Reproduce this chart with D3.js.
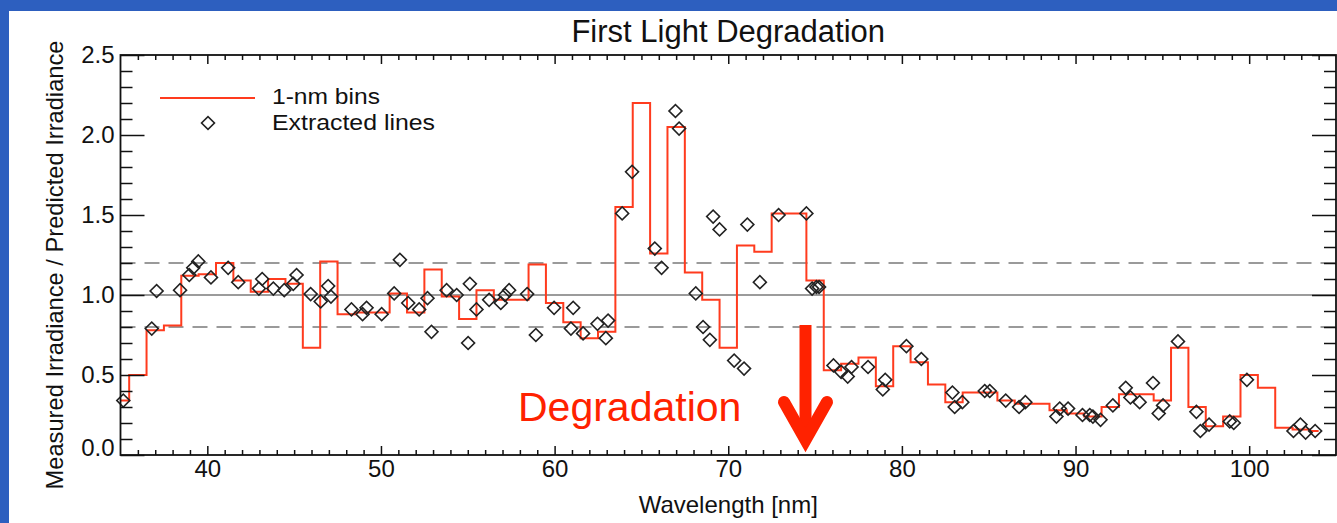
<!DOCTYPE html>
<html>
<head>
<meta charset="utf-8">
<script src="https://cdn.jsdelivr.net/npm/d3@7"></script>
<style>
  html, body { margin: 0; padding: 0; background: #2d5fbf; }
  svg { display: block; }
  text { font-family: "Liberation Sans", Arial, Helvetica, sans-serif; }
</style>
</head>
<body>
<svg id="chart" width="1337" height="523"></svg>
<script>
// ---------- data ----------
const binCenters = [35,36,37,38,39,40,41,42,43,44,45,46,47,48,49,50,51,52,53,54,55,56,57,58,59,60,
  61,62,63,64,65,66,67,68,69,70,71,72,73,74,75,76,77,78,79,80,81,82,83,84,85,86,87,88,89,90,
  91,92,93,94,95,96,97,98,99,100,101,102,103,104];
const binValues = [0.34,0.50,0.78,0.81,1.12,1.13,1.20,1.09,1.02,1.10,1.07,0.67,1.21,0.88,0.89,0.89,1.01,0.89,1.16,0.99,
  0.85,1.03,0.97,0.97,1.19,0.95,0.83,0.73,0.77,1.55,2.20,1.26,2.05,1.14,0.97,0.67,1.31,1.27,1.51,1.51,
  1.09,0.53,0.57,0.61,0.43,0.68,0.58,0.44,0.33,0.39,0.39,0.34,0.32,0.32,0.28,0.26,
  0.24,0.30,0.38,0.38,0.34,0.67,0.30,0.18,0.24,0.50,0.42,0.17,0.16,0.15];

const lineWaves = [35.16,36.8,37.08,38.43,38.96,39.19,39.48,40.21,41.2,41.78,42.97,43.16,43.8,44.43,44.95,45.14,
  45.95,46.53,46.96,47.12,48.3,48.94,49.17,50.04,50.76,51.09,51.57,52.2,52.68,52.91,53.78,
  54.36,55.02,55.12,55.5,56.23,56.9,57.14,57.38,58.42,58.92,59.97,60.94,61.07,61.64,62.47,62.95,63.08,
  63.89,64.46,65.77,66.16,66.96,67.17,68.13,68.55,68.94,69.13,69.5,70.34,70.91,71.1,71.82,72.9,74.5,
  74.83,75.08,75.23,76.06,76.5,76.88,77.1,78.05,78.9,79.04,80.26,81.12,82.91,83.04,83.48,84.77,85.06,
  85.98,86.75,87.11,88.9,89.09,89.57,90.4,90.82,91.0,91.44,92.15,92.89,93.16,93.69,94.46,94.79,95.04,
  95.9,96.96,97.19,97.69,98.88,99.11,99.87,102.55,102.95,103.25,103.8];
const lineValues = [0.34,0.79,1.025,1.03,1.125,1.17,1.21,1.11,1.17,1.08,1.04,1.10,1.04,1.03,1.07,1.125,
  1.006,0.96,1.056,0.99,0.91,0.88,0.92,0.88,1.01,1.22,0.95,0.91,0.98,0.77,1.03,
  1.0,0.70,1.07,0.91,0.97,0.95,1.0,1.03,1.006,0.75,0.92,0.79,0.92,0.76,0.82,0.73,0.84,
  1.51,1.77,1.29,1.17,2.15,2.04,1.01,0.80,0.72,1.49,1.41,0.59,0.54,1.44,1.08,1.50,1.51,
  1.04,1.05,1.05,0.56,0.52,0.49,0.55,0.55,0.41,0.47,0.68,0.60,0.39,0.30,0.33,0.40,0.40,
  0.34,0.30,0.33,0.24,0.29,0.29,0.25,0.25,0.24,0.22,0.31,0.42,0.36,0.33,0.45,0.26,0.31,
  0.71,0.27,0.15,0.19,0.21,0.20,0.47,0.15,0.19,0.14,0.15];

const xTicks = [40,50,60,70,80,90,100];
const yTicks = [0.0,0.5,1.0,1.5,2.0,2.5];
const refLines = [0.8,1.0,1.2];
const legendLabels = ["1-nm bins","Extracted lines"];
const titleText = "First Light Degradation";
const xLabel = "Wavelength [nm]";
const yLabel = "Measured Irradiance / Predicted Irradiance";
const noteText = "Degradation";

// ---------- layout ----------
const svg = d3.select("#chart");
const W = 1337, H = 523;
const L = 120.5, R = 1336, T = 55, B = 455;
const x = d3.scaleLinear().domain([35,105]).range([L,R]);
const y = d3.scaleLinear().domain([0,2.5]).range([B,T]);
const RED = "#ff3b1e";

// slide background
svg.append("rect").attr("width",W).attr("height",H).attr("fill","#2d5fbf");
svg.append("rect").attr("x",9).attr("y",11).attr("width",W-9).attr("height",H-11).attr("fill","#ffffff");

// title
svg.append("text").attr("x",(L+R)/2).attr("y",42).attr("text-anchor","middle")
  .attr("font-size",31).attr("fill","#111").text(titleText);

// reference lines
const g = svg.append("g");
g.selectAll("line.ref").data(refLines).join("line")
  .attr("x1",L).attr("x2",R).attr("y1",d=>y(d)).attr("y2",d=>y(d))
  .attr("stroke","#7a7a7a").attr("stroke-width",1.5)
  .attr("stroke-dasharray",d=>d===1.0?null:"15,9");

// step line
const stepLine = d3.line().x(d=>x(d[0])).y(d=>y(d[1])).curve(d3.curveStep);
g.append("path").datum(binCenters.map((c,i)=>[c,binValues[i]]))
  .attr("d",stepLine).attr("fill","none").attr("stroke",RED).attr("stroke-width",2);

// diamonds
const dia = d3.symbol().type(d3.symbolSquare).size(84);
g.selectAll("path.pt").data(lineWaves.map((w,i)=>[w,lineValues[i]])).join("path")
  .attr("class","pt").attr("d",dia)
  .attr("transform",d=>`translate(${x(d[0])},${y(d[1])}) rotate(45)`)
  .attr("fill","none").attr("stroke","#222").attr("stroke-width",1.6);

// axes
const minorX = d3.range(36,105,1).filter(v=>v%10!==0);
const minorY = d3.range(1,25,1).map(v=>v/10).filter(v=>Math.round(v*10)%5!==0);
function styleAxis(sel){ sel.select(".domain").remove(); sel.selectAll("line").attr("stroke","#111").attr("stroke-width",1.5); sel.selectAll("text").attr("fill","#111").attr("font-size",24).attr("font-family","Liberation Sans, Arial, sans-serif"); }

svg.append("g").attr("transform",`translate(0,${B})`)
  .call(d3.axisBottom(x).tickValues(xTicks).tickSizeInner(-9).tickSizeOuter(0).tickPadding(5).tickFormat(d3.format("d")))
  .call(styleAxis);
svg.append("g").attr("transform",`translate(0,${B})`)
  .call(d3.axisBottom(x).tickValues(minorX).tickSizeInner(-5).tickSizeOuter(0).tickFormat(""))
  .call(styleAxis);
svg.append("g").attr("transform",`translate(0,${T})`)
  .call(d3.axisTop(x).tickValues(xTicks).tickSizeInner(-9).tickSizeOuter(0).tickFormat(""))
  .call(styleAxis);
svg.append("g").attr("transform",`translate(0,${T})`)
  .call(d3.axisTop(x).tickValues(minorX).tickSizeInner(-5).tickSizeOuter(0).tickFormat(""))
  .call(styleAxis);

const yAxisL = svg.append("g").attr("transform",`translate(${L},0)`)
  .call(d3.axisLeft(y).tickValues(yTicks).tickSizeInner(-24).tickSizeOuter(0).tickPadding(6).tickFormat(d3.format(".1f")))
  .call(styleAxis);
yAxisL.selectAll(".tick").filter(d=>d===0).select("text").attr("dy","0.0em");
svg.append("g").attr("transform",`translate(${L},0)`)
  .call(d3.axisLeft(y).tickValues(minorY).tickSizeInner(-12).tickSizeOuter(0).tickFormat(""))
  .call(styleAxis);
svg.append("g").attr("transform",`translate(${R},0)`)
  .call(d3.axisRight(y).tickValues(yTicks).tickSizeInner(-24).tickSizeOuter(0).tickFormat(""))
  .call(styleAxis);
svg.append("g").attr("transform",`translate(${R},0)`)
  .call(d3.axisRight(y).tickValues(minorY).tickSizeInner(-12).tickSizeOuter(0).tickFormat(""))
  .call(styleAxis);

// frame
svg.append("rect").attr("x",L).attr("y",T).attr("width",R-L).attr("height",B-T)
  .attr("fill","none").attr("stroke","#111").attr("stroke-width",1.8);

// axis labels
svg.append("text").attr("x",(L+R)/2).attr("y",513).attr("text-anchor","middle")
  .attr("font-size",24).attr("fill","#111").text(xLabel);
svg.append("text").attr("transform",`translate(63,265) rotate(-90)`).attr("text-anchor","middle")
  .attr("font-size",23.7).attr("fill","#111").text(yLabel);

// legend
svg.append("line").attr("x1",160).attr("x2",255).attr("y1",98).attr("y2",98)
  .attr("stroke",RED).attr("stroke-width",2);
svg.append("path").attr("d",dia).attr("transform","translate(208,123) rotate(45)")
  .attr("fill","none").attr("stroke","#222").attr("stroke-width",1.6);
svg.selectAll("text.leg").data(legendLabels).join("text").attr("class","leg")
  .attr("x",272).attr("y",(d,i)=>104+i*26).attr("font-size",22.5)
  .attr("textLength",(d,i)=>i===0?108:163).attr("lengthAdjust","spacingAndGlyphs")
  .attr("fill","#111").text(d=>d);

// annotation
svg.append("text").attr("x",518).attr("y",421).attr("font-size",41).attr("fill","#ff2200").text(noteText);
svg.append("rect").attr("x",799.5).attr("y",325).attr("width",12).attr("height",105).attr("fill","#ff2200");
svg.append("path").attr("d","M784,402 L805.5,440 L827,402")
  .attr("fill","none").attr("stroke","#ff2200").attr("stroke-width",12)
  .attr("stroke-linecap","round").attr("stroke-linejoin","miter");
</script>
</body>
</html>
